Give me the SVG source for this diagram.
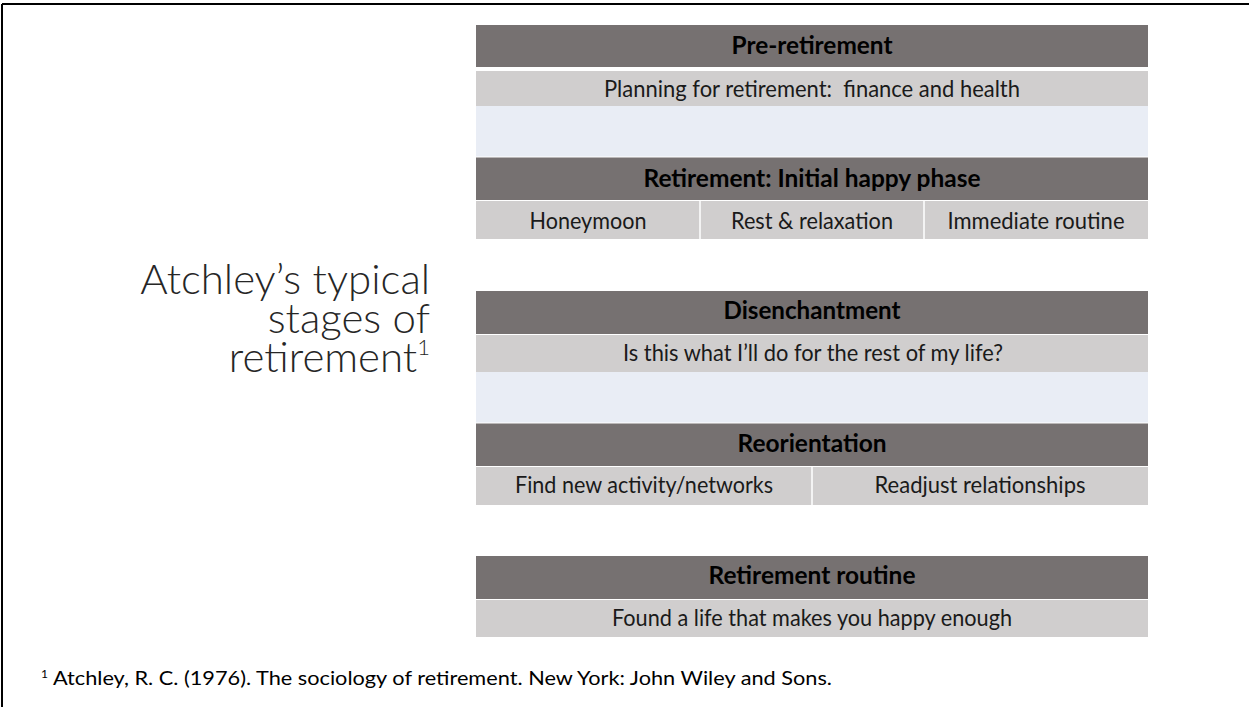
<svg xmlns="http://www.w3.org/2000/svg" width="1249" height="707" viewBox="0 0 1249 707">
  <style>
    .hdr { fill: #767171; }
    .row { fill: #D0CECE; }
    .gap { fill: #E9EDF5; }
    .div { stroke: #FFFFFF; stroke-width: 1.5; }
    .ht { font-family: Lato, "Liberation Sans", sans-serif; font-weight: 700; font-size: 24px; fill: #000000; text-anchor: middle; }
    .rt { font-family: Lato, "Liberation Sans", sans-serif; font-size: 23px; fill: #1A1A1A; text-anchor: middle; white-space: pre; }
    .title { font-family: Lato, "Liberation Sans", sans-serif; font-weight: 300; font-size: 42px; fill: #262626; text-anchor: end; }
    .foot { font-family: Lato, "Liberation Sans", sans-serif; font-size: 19px; fill: #000000; }
  </style>

  <rect x="0" y="0" width="1249" height="707" fill="#FFFFFF"/>
  <!-- frame: top and left edges -->
  <line x1="2" y1="4" x2="1249" y2="4" stroke="#000000" stroke-width="2"/>
  <line x1="2" y1="4" x2="2" y2="707" stroke="#000000" stroke-width="2"/>

  <g id="title">
    <text class="title" x="430" y="294">Atchley’s typical</text>
    <text class="title" x="430" y="333">stages of</text>
    <text class="title" x="430" y="372">retirement<tspan font-size="22" dy="-17">1</tspan></text>
  </g>

  <g id="stage-pre-retirement">
    <rect class="hdr" x="476" y="25" width="672" height="42"/>
    <text class="ht" x="812" y="53.5" textLength="161" lengthAdjust="spacingAndGlyphs">Pre-retirement</text>
    <rect class="row" x="476" y="71" width="672" height="35"/>
    <text class="rt" x="812" y="97" textLength="416" lengthAdjust="spacingAndGlyphs">Planning for retirement:  finance and health</text>
    <rect class="gap" x="476" y="106" width="672" height="50.5"/>
  </g>

  <g id="stage-initial-happy-phase">
    <rect class="hdr" x="476" y="157.5" width="672" height="42.5"/>
    <text class="ht" x="812" y="187" textLength="337" lengthAdjust="spacingAndGlyphs">Retirement: Initial happy phase</text>
    <rect class="row" x="476" y="201" width="672" height="38"/>
    <line class="div" x1="700" y1="201" x2="700" y2="239"/>
    <line class="div" x1="924" y1="201" x2="924" y2="239"/>
    <text class="rt" x="588" y="228.5" textLength="117" lengthAdjust="spacingAndGlyphs">Honeymoon</text>
    <text class="rt" x="812" y="228.5" textLength="162" lengthAdjust="spacingAndGlyphs">Rest &amp; relaxation</text>
    <text class="rt" x="1036" y="228.5" textLength="177" lengthAdjust="spacingAndGlyphs">Immediate routine</text>
  </g>

  <g id="stage-disenchantment">
    <rect class="hdr" x="476" y="291" width="672" height="43"/>
    <text class="ht" x="812" y="318.5" textLength="177" lengthAdjust="spacingAndGlyphs">Disenchantment</text>
    <rect class="row" x="476" y="335" width="672" height="37"/>
    <text class="rt" x="813" y="360.5" textLength="380" lengthAdjust="spacingAndGlyphs">Is this what I’ll do for the rest of my life?</text>
    <rect class="gap" x="476" y="372" width="672" height="50.5"/>
  </g>

  <g id="stage-reorientation">
    <rect class="hdr" x="476" y="423.5" width="672" height="42.5"/>
    <text class="ht" x="812" y="452" textLength="149" lengthAdjust="spacingAndGlyphs">Reorientation</text>
    <rect class="row" x="476" y="467" width="672" height="38"/>
    <line class="div" x1="812" y1="467" x2="812" y2="505"/>
    <text class="rt" x="644" y="492.5" textLength="258" lengthAdjust="spacingAndGlyphs">Find new activity/networks</text>
    <text class="rt" x="980" y="492.5" textLength="211" lengthAdjust="spacingAndGlyphs">Readjust relationships</text>
  </g>

  <g id="stage-retirement-routine">
    <rect class="hdr" x="476" y="556" width="672" height="43"/>
    <text class="ht" x="812" y="583.5" textLength="207" lengthAdjust="spacingAndGlyphs">Retirement routine</text>
    <rect class="row" x="476" y="600" width="672" height="37"/>
    <text class="rt" x="812" y="626" textLength="400" lengthAdjust="spacingAndGlyphs">Found a life that makes you happy enough</text>
  </g>

  <g id="footnote">
    <text class="foot" x="41" y="685"><tspan font-size="12" dy="-7">1</tspan><tspan dy="7" x="53" textLength="779" lengthAdjust="spacingAndGlyphs">Atchley, R. C. (1976). The sociology of retirement. New York: John Wiley and Sons.</tspan></text>
  </g>
</svg>
